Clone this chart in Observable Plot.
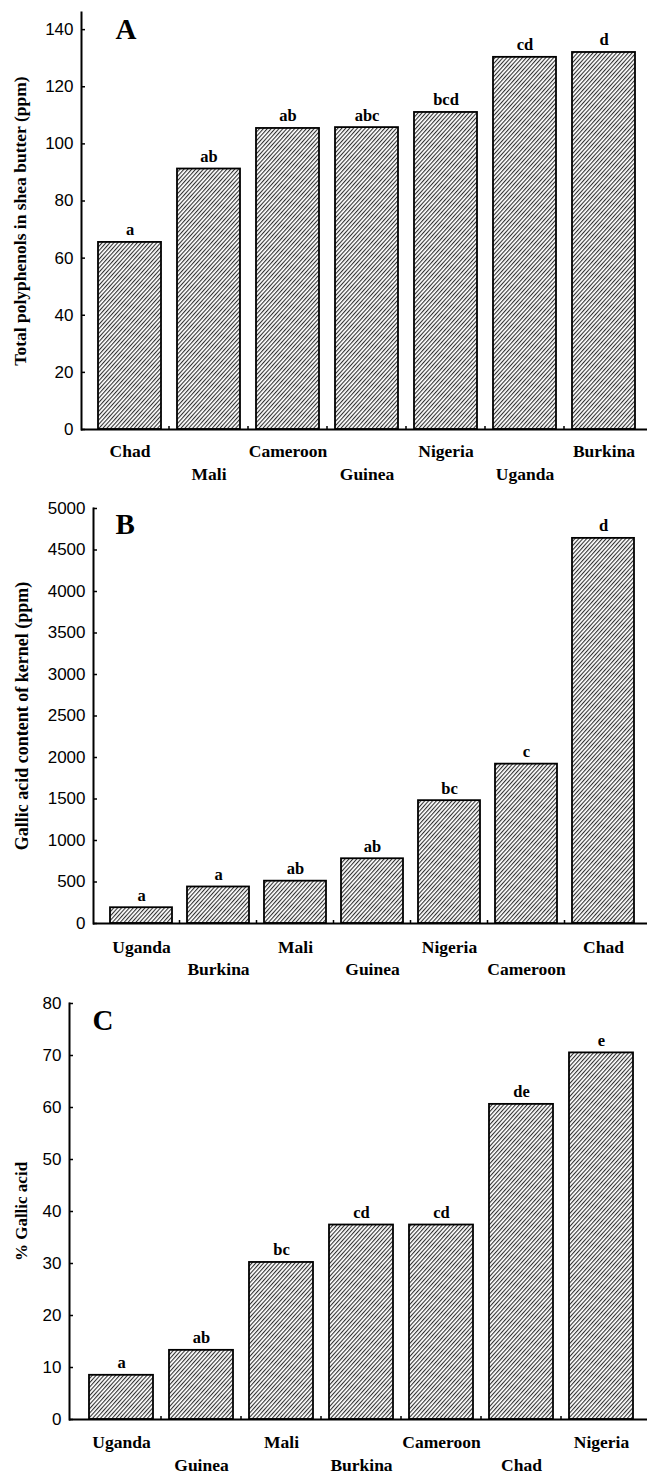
<!DOCTYPE html>
<html><head><meta charset="utf-8">
<script src="https://cdn.jsdelivr.net/npm/d3@7"></script>
<script src="https://cdn.jsdelivr.net/npm/@observablehq/plot@0.6"></script>
<style>
body{margin:0;background:#fff;overflow:hidden}
#chart svg{display:block;overflow:visible}
</style>
</head><body><div id="chart"></div>
<script>
// Panel A: total polyphenols in shea butter (ppm)
const countriesA = ["Chad","Mali","Cameroon","Guinea","Nigeria","Uganda","Burkina"];
const valuesA = [65.5, 91.2, 105.4, 105.7, 111, 130.3, 132];
const lettersA = ["a","ab","ab","abc","bcd","cd","d"];
const ticksA = [0,20,40,60,80,100,120,140];

// Panel B: gallic acid content of kernel (ppm)
const countriesB = ["Uganda","Burkina","Mali","Guinea","Nigeria","Cameroon","Chad"];
const valuesB = [190, 440, 510, 780, 1480, 1920, 4640];
const lettersB = ["a","a","ab","ab","bc","c","d"];
const ticksB = [0,500,1000,1500,2000,2500,3000,3500,4000,4500,5000];

// Panel C: % gallic acid
const countriesC = ["Uganda","Guinea","Mali","Burkina","Cameroon","Chad","Nigeria"];
const valuesC = [8.5, 13.3, 30.2, 37.4, 37.4, 60.6, 70.5];
const lettersC = ["a","ab","bc","cd","cd","de","e"];
const ticksC = [0,10,20,30,40,50,60,70,80];

const SERIF = "'Liberation Serif','Times New Roman',serif";
const SANS = "'Liberation Sans',Arial,sans-serif";

function hatchDefs(id) {
  return () => {
    const defs = d3.create("svg:defs");
    const p = defs.append("pattern")
      .attr("id", id).attr("patternUnits", "userSpaceOnUse")
      .attr("width", 2.9).attr("height", 10)
      .attr("patternTransform", "rotate(42)");
    p.append("rect").attr("width", 2.9).attr("height", 10).attr("fill", "white");
    p.append("line").attr("x1", 0.6).attr("y1", 0).attr("x2", 0.6).attr("y2", 10)
      .attr("stroke", "black").attr("stroke-width", 0.9);
    return defs.node();
  };
}

function bandTicks(cats) {
  return (index, scales) => {
    const x = scales.x, y = scales.y;
    const bw = x.bandwidth();
    const g = d3.create("svg:g");
    const y0 = y(0);
    for (let i = 1; i < cats.length; i++) {
      const xm = (x(cats[i-1]) + bw + x(cats[i])) / 2;
      g.append("line").attr("x1", xm).attr("x2", xm).attr("y1", y0).attr("y2", y0 - 3)
        .attr("stroke", "black").attr("stroke-width", 1.5);
    }
    return g.node();
  };
}

function panel(o) {
  const data = o.cats.map((c, i) => ({c, v: o.vals[i], l: o.lets[i]}));
  const even = o.cats.filter((_, i) => i % 2 === 0);
  const odd = o.cats.filter((_, i) => i % 2 === 1);
  return Plot.plot({
    width: 647,
    height: o.height,
    marginTop: o.marginTop,
    marginBottom: o.marginBottom,
    marginLeft: o.marginLeft,
    marginRight: o.marginRight,
    style: {background: "white", overflow: "visible"},
    x: {domain: o.cats, padding: 0.2, axis: null},
    y: {domain: o.yDomain, axis: null},
    marks: [
      hatchDefs(o.id),
      Plot.barY(data, {x: "c", y: "v", fill: `url(#${o.id})`, stroke: "black", strokeWidth: 1.8}),
      Plot.frame({anchor: "left", strokeWidth: 2}),
      Plot.ruleY([0], {strokeWidth: 2}),
      bandTicks(o.cats),
      Plot.axisY(o.yTicks, {label: null, tickSize: -4, tickPadding: 12, fontSize: 17, fontFamily: SANS, tickFormat: d => String(d), strokeWidth: 1.5}),
      Plot.axisX(even, {label: null, tickSize: 0, tickPadding: o.pad1, fontSize: 17.5, fontWeight: "bold", fontFamily: SERIF}),
      Plot.axisX(odd, {label: null, tickSize: 0, tickPadding: o.pad2, fontSize: 17.5, fontWeight: "bold", fontFamily: SERIF}),
      Plot.text(data, {x: "c", y: "v", text: "l", dy: -7, lineAnchor: "bottom", fontSize: 16.5, fontWeight: "bold", fontFamily: SERIF}),
      Plot.text([o.label], {frameAnchor: "left", rotate: -90, dx: o.labelDx, textAnchor: "middle", lineAnchor: "bottom", fontSize: o.labelSize, fontWeight: "bold", fontFamily: SERIF}),
      Plot.text([o.letter], {frameAnchor: "top-left", dx: o.letterDx, dy: o.letterDy, textAnchor: "start", lineAnchor: "bottom", fontSize: 29, fontWeight: "bold", fontFamily: SERIF})
    ]
  });
}

const chart = document.getElementById("chart");
chart.append(panel({
  id: "hatchA", cats: countriesA, vals: valuesA, lets: lettersA, yDomain: [0,146], yTicks: ticksA,
  height: 483, marginTop: 12, marginBottom: 54, marginLeft: 81, marginRight: -4.5,
  pad1: 15, pad2: 38, label: "Total polyphenols in shea butter (ppm)", labelDx: -56, labelSize: 17.5,
  letter: "A", letterDx: 34, letterDy: 26
}));
chart.append(panel({
  id: "hatchB", cats: countriesB, vals: valuesB, lets: lettersB, yDomain: [0,5000], yTicks: ticksB,
  height: 500, marginTop: 25, marginBottom: 60, marginLeft: 93, marginRight: -4,
  pad1: 17, pad2: 39, label: "Gallic acid content of kernel (ppm)", labelDx: -66, labelSize: 18,
  letter: "B", letterDx: 22, letterDy: 25
}));
chart.append(panel({
  id: "hatchC", cats: countriesC, vals: valuesC, lets: lettersC, yDomain: [0,80], yTicks: ticksC,
  height: 491, marginTop: 20, marginBottom: 55, marginLeft: 69, marginRight: -5,
  pad1: 16, pad2: 39, label: "% Gallic acid", labelDx: -43, labelSize: 17,
  letter: "C", letterDx: 23, letterDy: 26
}));
</script>
</body></html>
